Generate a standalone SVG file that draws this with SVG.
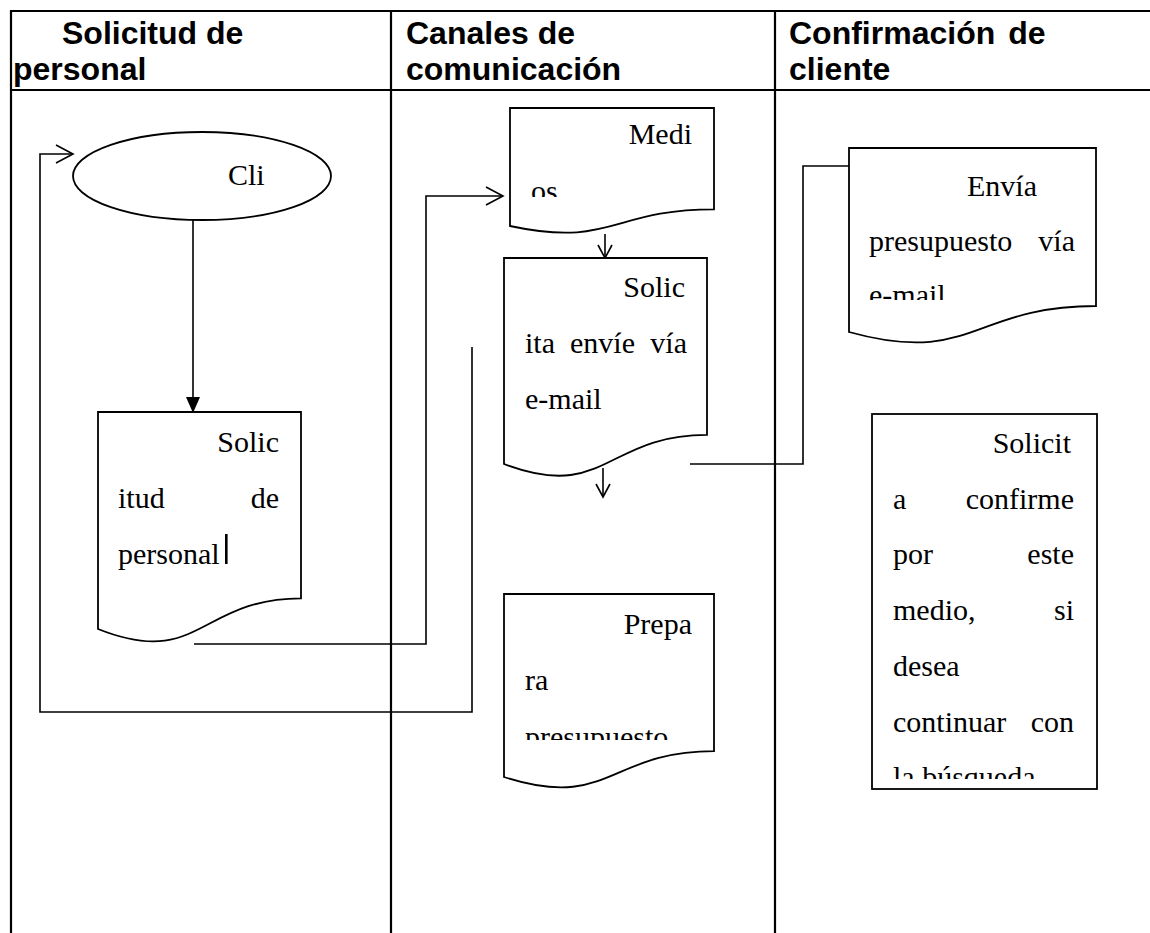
<svg xmlns="http://www.w3.org/2000/svg" width="1150" height="933" viewBox="0 0 1150 933">
  <style>
    .grid { stroke: #000; stroke-width: 2.2; fill: none; }
    .hdr { font-family: "Liberation Sans", Arial, sans-serif; font-weight: bold; font-size: 32px; fill: #000; }
    .shape { fill: #fff; stroke: #000; stroke-width: 1.8; }
    .t { font-family: "Liberation Serif", "Times New Roman", serif; font-size: 30px; fill: #000; }
    .end { text-anchor: end; }
    .wire { fill: none; stroke: #000; stroke-width: 1.6; }
  </style>
  <defs>
    <marker id="open" markerUnits="userSpaceOnUse" viewBox="0 0 20 20" refX="18" refY="10" markerWidth="20" markerHeight="20" orient="auto">
      <path d="M1,1 L18,10 L1,19" fill="none" stroke="#000" stroke-width="1.6"/>
    </marker>
    <marker id="open-s" markerUnits="userSpaceOnUse" viewBox="0 0 16 20" refX="14" refY="8" markerWidth="16" markerHeight="20" orient="auto">
      <path d="M1,1 L14,8 L1,15" fill="none" stroke="#000" stroke-width="1.6"/>
    </marker>
    <marker id="solid" markerUnits="userSpaceOnUse" viewBox="0 0 16 14" refX="15" refY="7" markerWidth="16" markerHeight="14" orient="auto">
      <path d="M0,0 L16,7 L0,14 Z" fill="#000"/>
    </marker>
    <clipPath id="clip-medi"><rect x="505" y="100" width="205" height="97"/></clipPath>
    <clipPath id="clip-envia"><rect x="850" y="150" width="245" height="150"/></clipPath>
    <clipPath id="clip-prepa"><rect x="505" y="596" width="205" height="144"/></clipPath>
    <clipPath id="clip-solicit"><rect x="873" y="416" width="222" height="363"/></clipPath>
  </defs>

  <!-- lane grid -->
  <g id="lanes">
    <line class="grid" x1="11" y1="11" x2="1150" y2="11"/>
    <line class="grid" x1="11" y1="90" x2="1150" y2="90"/>
    <line class="grid" x1="11" y1="10" x2="11" y2="933"/>
    <line class="grid" x1="391" y1="10" x2="391" y2="933"/>
    <line class="grid" x1="775" y1="10" x2="775" y2="933"/>
    <text class="hdr" x="62" y="44">Solicitud de</text>
    <text class="hdr" x="13" y="80">personal</text>
    <text class="hdr" x="406" y="44">Canales de</text>
    <text class="hdr" x="406" y="80">comunicación</text>
    <text class="hdr" x="789" y="44" word-spacing="4">Confirmación de</text>
    <text class="hdr" x="789" y="80">cliente</text>
  </g>

  <!-- connectors -->
  <g id="connectors">
    <polyline class="wire" points="472,347 472,712 40,712 40,154 73,154" marker-end="url(#open)"/>
    <line class="wire" x1="193" y1="220" x2="193" y2="412" marker-end="url(#solid)"/>
    <polyline class="wire" points="194,644 426,644 426,196 503,196" marker-end="url(#open)"/>
    <line class="wire" x1="605" y1="234" x2="605" y2="258" marker-end="url(#open-s)"/>
    <line class="wire" x1="603" y1="468" x2="603" y2="497" marker-end="url(#open-s)"/>
    <polyline class="wire" points="690,464 803,464 803,166 849,166"/>
  </g>

  <!-- start: Cli -->
  <g id="node-cli">
    <ellipse class="shape" cx="202" cy="176" rx="129" ry="44"/>
    <text class="t" x="228" y="185">Cli</text>
  </g>

  <!-- document: Solicitud de personal -->
  <g id="node-solicitud">
    <path class="shape" d="M98,412 H301 V598.4 C199.5,598.4 199.5,669.4 98,629 Z"/>
    <text class="t end" x="279" y="452">Solic</text>
    <text class="t" x="118" y="508">itud</text>
    <text class="t end" x="279" y="508">de</text>
    <text class="t" x="118" y="564">personal</text>
    <rect x="225" y="534" width="2.6" height="30" fill="#000"/>
  </g>

  <!-- document: Medios -->
  <g id="node-medios">
    <path class="shape" d="M510,108 H714 V209.3 C612,209.3 612,247.9 510,226 Z"/>
    <g clip-path="url(#clip-medi)">
      <text class="t end" x="692" y="144">Medi</text>
      <text class="t" x="531" y="200.5">os</text>
    </g>
  </g>

  <!-- document: Solicita envíe vía e-mail -->
  <g id="node-solicita-envio">
    <path class="shape" d="M504,258 H707 V434.9 C605.5,434.9 605.5,502.3 504,464 Z"/>
    <text class="t end" x="685" y="297">Solic</text>
    <text class="t" x="525" y="353">ita</text>
    <text class="t" x="570" y="353">envíe</text>
    <text class="t end" x="687" y="353">vía</text>
    <text class="t" x="525" y="409">e-mail</text>
  </g>

  <!-- document: Prepara presupuesto -->
  <g id="node-prepara">
    <path class="shape" d="M504,594 H714 V751.1 C609,751.1 609,811 504,777 Z"/>
    <g clip-path="url(#clip-prepa)">
      <text class="t end" x="692" y="634">Prepa</text>
      <text class="t" x="525" y="690">ra</text>
      <text class="t" x="525" y="747">presupuesto</text>
    </g>
  </g>

  <!-- document: Envía presupuesto vía e-mail -->
  <g id="node-envia">
    <path class="shape" d="M849,148 H1096 V306 C972.5,306 972.5,366.2 849,332 Z"/>
    <g clip-path="url(#clip-envia)">
      <text class="t" x="967" y="196">Envía</text>
      <text class="t" x="869" y="251">presupuesto</text>
      <text class="t end" x="1075" y="251">vía</text>
      <text class="t" x="869" y="305">e-mail</text>
    </g>
  </g>

  <!-- process: Solicita confirme -->
  <g id="node-solicita-confirme">
    <rect class="shape" x="872" y="414" width="225" height="375"/>
    <g clip-path="url(#clip-solicit)">
      <text class="t end" x="1071" y="453">Solicit</text>
      <text class="t" x="893" y="508.7">a</text>
      <text class="t end" x="1074" y="508.7">confirme</text>
      <text class="t" x="893" y="564.4">por</text>
      <text class="t end" x="1074" y="564.4">este</text>
      <text class="t" x="893" y="620.1">medio,</text>
      <text class="t end" x="1074" y="620.1">si</text>
      <text class="t" x="893" y="675.8">desea</text>
      <text class="t" x="893" y="731.5">continuar</text>
      <text class="t end" x="1074" y="731.5">con</text>
      <text class="t" x="893" y="787.2">la búsqueda</text>
    </g>
  </g>
</svg>
